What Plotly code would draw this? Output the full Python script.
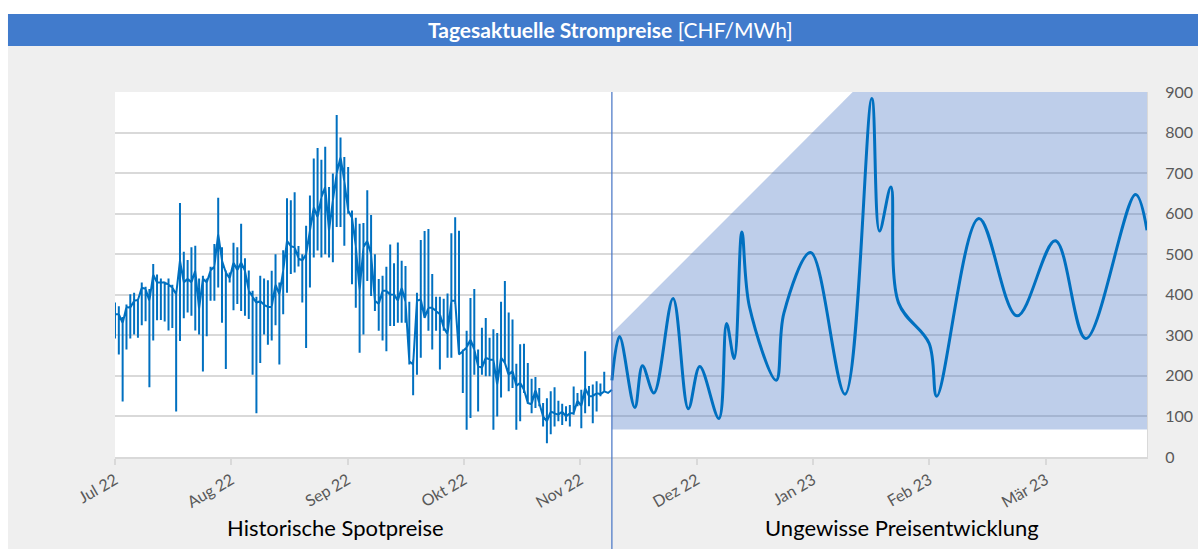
import plotly.graph_objects as go

# ---------------- data ----------------
month_labels = ["Jul 22", "Aug 22", "Sep 22", "Okt 22", "Nov 22",
                "Dez 22", "Jan 23", "Feb 23", "Mär 23"]
days_per_month = 365.25 / 12

# historical spot prices, day index from 1 Jul 2022 (level, daily high, daily low)
hist_mid = [
    352, 352, 330, 370, 368, 385, 387, 418, 414, 385,
    450, 430, 430, 430, 425, 418, 401, 484, 430, 440,
    430, 460, 365, 440, 430, 460, 470, 550, 484, 455,
    440, 480, 460,
    480, 459, 410, 395, 380, 385, 375, 370, 370, 426,
    400, 459, 533, 520, 517, 490, 484, 500, 558, 616,
    591, 640, 666, 558, 633, 699, 740, 680, 608, 590,
    520, 410,
    517, 533, 500, 385, 377, 410, 410, 400, 401, 385,
    418, 383, 236, 228, 385, 389, 343, 368, 368, 360,
    352, 319, 303, 385, 385, 253, 261, 270, 290, 265,
    224, 220,
    245, 240, 240, 178, 245, 232, 202, 213, 175, 183,
    166, 133, 130, 166, 133, 100, 88, 112, 108, 104,
    112, 100, 108, 108, 139, 125, 170, 150, 150, 158,
    154, 162, 158, 166,
]
hist_hi = [
    381, 372, 345, 376, 401, 405, 390, 430, 420, 414,
    476, 450, 440, 432, 440, 425, 410, 626, 506, 486,
    517, 521, 440, 447, 440, 469, 525, 639, 517, 460,
    455, 528, 517,
    575, 490, 460, 410, 395, 447, 440, 436, 459, 500,
    430, 510, 638, 633, 653, 520, 500, 570, 645, 736,
    762, 733, 765, 666, 699, 843, 788, 740, 715, 608,
    590, 575,
    577, 658, 597, 500, 439, 447, 469, 524, 478, 529,
    484, 471, 383, 240, 405, 535, 557, 562, 451, 395,
    395, 390, 403, 552, 591, 558, 265, 311, 392, 414,
    265, 319,
    343, 294, 315, 306, 383, 434, 356, 339, 230, 278,
    279, 232, 193, 197, 170, 133, 145, 162, 172, 139,
    131, 125, 128, 174, 158, 166, 261, 175, 179, 187,
    181, 210, 158, 166,
]
hist_lo = [
    292, 253, 137, 265, 292, 302, 294, 325, 335, 172,
    287, 337, 338, 334, 312, 318, 112, 286, 342, 356,
    348, 312, 302, 211, 298, 385, 385, 418, 331, 217,
    430, 362, 377,
    360, 348, 340, 203, 108, 232, 302, 277, 287, 325,
    228, 352, 405, 451, 455, 470, 381, 269, 418, 492,
    509, 492, 500, 492, 480, 567, 567, 521, 600, 426,
    368, 257,
    302, 434, 397, 360, 311, 287, 261, 323, 323, 331,
    331, 331, 228, 152, 203, 245, 343, 311, 265, 311,
    216, 311, 245, 245, 377, 253, 158, 67, 96, 203,
    112, 203,
    199, 199, 67, 100, 147, 232, 162, 170, 67, 88,
    158, 145, 108, 121, 125, 75, 34, 56, 75, 88,
    79, 88, 75, 104, 125, 71, 108, 125, 83, 112,
    150, 166, 158, 166,
]

# uncertain future development (smoothed line)
fc_day = [130, 132, 136, 138, 141, 146, 150, 153, 158, 160, 162, 164, 166,
          173, 175, 182, 191, 198, 200, 203, 205, 213, 215, 226, 236, 246,
          254, 267, 270]
fc_val = [189, 297, 122, 225, 158, 391, 119, 223, 95, 329, 243, 555, 370,
          189, 355, 504, 155, 884, 557, 666, 380, 280, 150, 588, 348, 533,
          292, 647, 559]

# uncertainty band
band_day = [130, 193, 270]
band_hi = [305, 900, 900]
band_lo = [68, 68, 68]

# ---------------- build ----------------
hx, hy = [], []
for d, (m, h, l) in enumerate(zip(hist_mid, hist_hi, hist_lo)):
    hx += [d, d, d, d]
    hy += [m, h, l, m]

FONT = "Lato, Carlito, 'Open Sans', sans-serif"
BLUE = "#0070C0"

fig = go.Figure()
fig.add_trace(go.Scatter(
    x=band_day + band_day[::-1], y=band_hi + band_lo[::-1],
    fill="toself", fillcolor="rgba(68,114,196,0.35)",
    line=dict(width=0), mode="lines", hoverinfo="skip"))
fig.add_trace(go.Scatter(
    x=hx, y=hy, mode="lines", line=dict(color=BLUE, width=2)))
fig.add_trace(go.Scatter(
    x=fc_day, y=fc_val, mode="lines",
    line=dict(color=BLUE, width=3, shape="spline", smoothing=1.0)))

tickvals = [i * days_per_month for i in range(len(month_labels))]

fig.update_layout(
    width=1198, height=549,
    margin=dict(l=115, r=51, t=92, b=92, autoexpand=False),
    paper_bgcolor="#EFEFEF", plot_bgcolor="white",
    showlegend=False,
    font=dict(family=FONT, color="#595959"),
    xaxis=dict(range=[0, fc_day[-1]], tickvals=tickvals, ticktext=month_labels,
               tickangle=-30, tickfont=dict(size=16, color="#595959"),
               showgrid=False, zeroline=False, automargin=False,
               showline=True, linecolor="#D9D9D9", linewidth=1.5,
               ticks="outside", ticklen=6, tickcolor="#D9D9D9", tickwidth=1.5),
    yaxis=dict(side="right", range=[0, 900], dtick=100, automargin=False,
               tickfont=dict(size=16, color="#595959"),
               showgrid=True, gridcolor="#D9D9D9", gridwidth=1.5,
               zeroline=False, showline=True, linecolor="#D9D9D9", linewidth=1,
               ticks="outside", ticklen=14, tickcolor="rgba(0,0,0,0)"),
)

shapes = [
    # white strips (top and left)
    dict(type="rect", xref="paper", yref="paper", x0=-0.12, x1=1.06,
         y0=1.2137, y1=1.26, fillcolor="white", line=dict(width=0), layer="below"),
    dict(type="rect", xref="paper", yref="paper", x0=-0.12, x1=-0.1037,
         y0=-0.3, y1=1.26, fillcolor="white", line=dict(width=0), layer="below"),
    # title bar
    dict(type="rect", xref="paper", yref="paper", x0=-0.1037, x1=1.06,
         y0=1.1260, y1=1.2137, fillcolor="#417BCC", line=dict(width=0), layer="below"),
    # separator history / forecast
    dict(type="line", xref="x", yref="paper", x0=fc_day[0], x1=fc_day[0],
         y0=1.0, y1=-0.27, line=dict(color="#4472C4", width=1.2)),
]
fig.update_layout(shapes=shapes)

fig.add_annotation(xref="paper", yref="paper", x=0.4797, y=1.1699,
                   xanchor="center", yanchor="middle",
                   text="<b>Tagesaktuelle Strompreise</b> [CHF/MWh]",
                   showarrow=False, font=dict(size=21, color="white", family=FONT))
fig.add_annotation(xref="paper", yref="paper", x=0.2137, y=-0.1945,
                   xanchor="center", yanchor="middle",
                   text="Historische Spotpreise", showarrow=False,
                   font=dict(size=22, color="black", family=FONT))
fig.add_annotation(xref="paper", yref="paper", x=0.7626, y=-0.1945,
                   xanchor="center", yanchor="middle",
                   text="Ungewisse Preisentwicklung", showarrow=False,
                   font=dict(size=22, color="black", family=FONT))

fig.write_html(
    "out.html",
    config={"displayModeBar": False},
    post_script="document.body.style.margin='0';document.body.style.overflow='hidden';",
)
